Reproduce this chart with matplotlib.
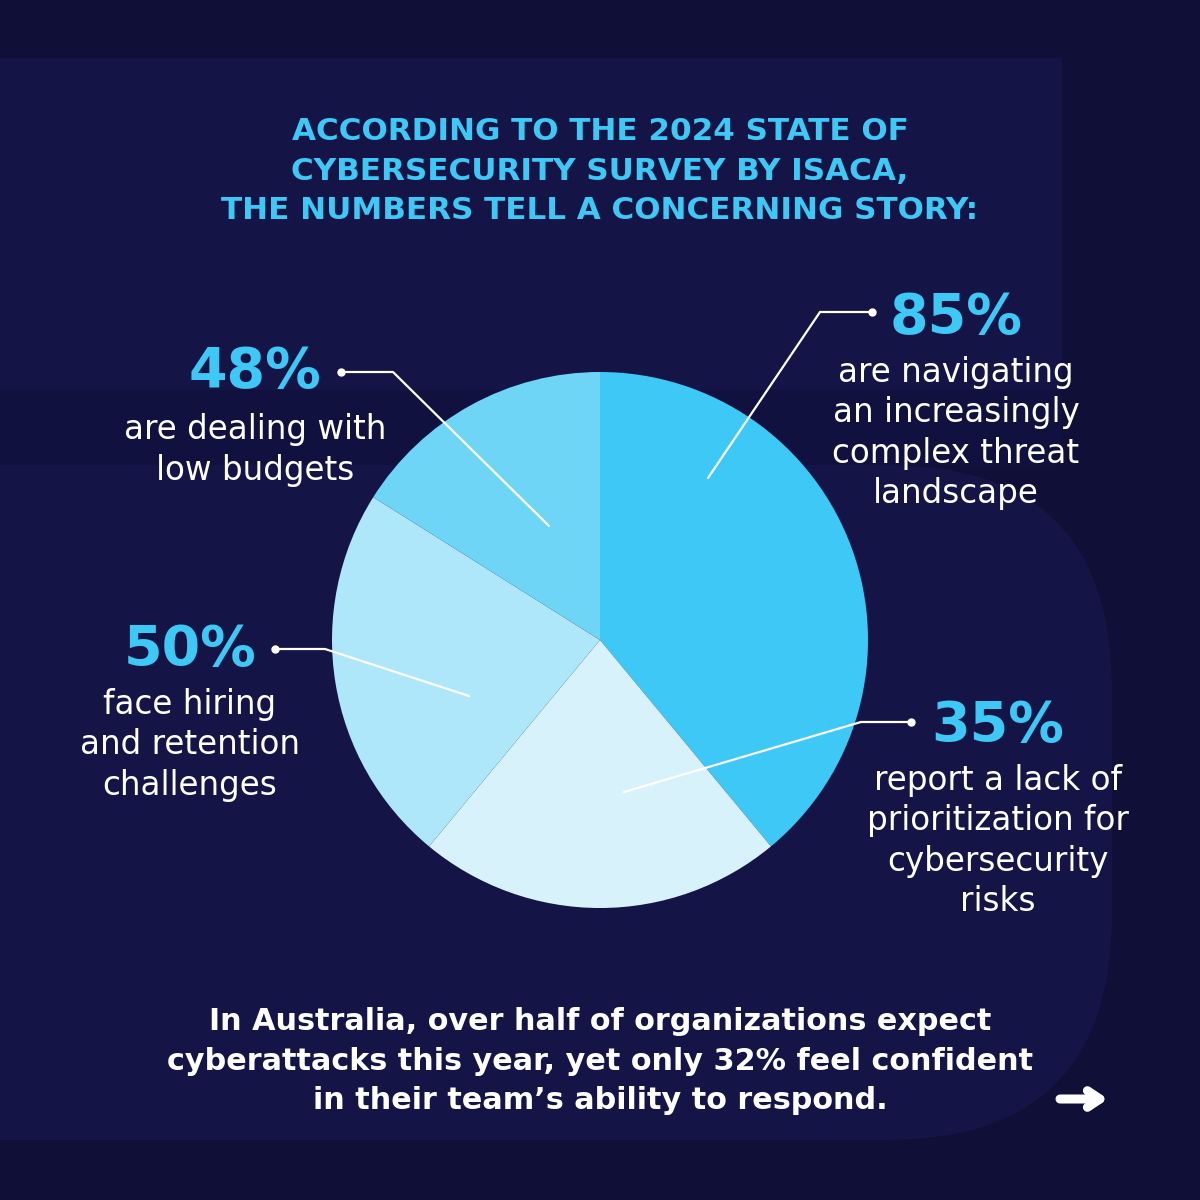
import matplotlib
matplotlib.use("Agg")
import matplotlib.pyplot as plt
from matplotlib.patches import Rectangle, FancyBboxPatch

# pie data (clockwise from top)
values = [85, 48, 50, 35]
slice_colors = ['#3DC8F5', '#D8F2FB', '#AEE7FA', '#6FD5F7']

title = "ACCORDING TO THE 2024 STATE OF\nCYBERSECURITY SURVEY BY ISACA,\nTHE NUMBERS TELL A CONCERNING STORY:"
footer = ("In Australia, over half of organizations expect\n"
          "cyberattacks this year, yet only 32% feel confident\n"
          "in their team\u2019s ability to respond.")

# callouts: big number, description, text centre x, number y, description centre y
callout_pct = ["85%", "48%", "50%", "35%"]
callout_desc = ["are navigating\nan increasingly\ncomplex threat\nlandscape",
                "are dealing with\nlow budgets",
                "face hiring\nand retention\nchallenges",
                "report a lack of\nprioritization for\ncybersecurity\nrisks"]
text_x = [956, 255, 190, 998]
pct_y = [318, 372, 650, 726]
desc_y = [433, 450, 745, 841]
# leader lines: dot, elbow, end
line_dot = [(872, 312), (341, 372), (275, 649), (911, 722)]
line_elbow = [(820, 312), (393, 372), (325, 649), (861, 722)]
line_end = [(708, 478), (549, 526), (469, 696), (624, 792)]

BLUE = '#3DC8F5'
fig = plt.figure(figsize=(12, 12), dpi=100)
fig.patch.set_facecolor('#100F38')

# background shapes
bg = fig.add_axes([0, 0, 1, 1], zorder=0)
bg.set_xlim(0, 1200)
bg.set_ylim(1200, 0)
bg.axis('off')
bg.add_patch(Rectangle((0, 58), 1062, 332, color='#141446', lw=0))
bg.add_patch(Rectangle((0, 390), 1062, 75, color='#111140', lw=0))
bg.add_patch(FancyBboxPatch((-400, 465), 1512, 675,
                            boxstyle="round,pad=0,rounding_size=225",
                            color='#141446', lw=0))

# pie
cx, cy, r = 600, 640, 268
pax = fig.add_axes([(cx - r) / 1200, (1200 - cy - r) / 1200, 2 * r / 1200, 2 * r / 1200], zorder=1)
pax.pie(values, colors=slice_colors, startangle=90, counterclock=False,
        radius=1, wedgeprops=dict(lw=0))
pax.set_xlim(-1, 1)
pax.set_ylim(-1, 1)
pax.axis('off')

# overlay for text and lines
ax = fig.add_axes([0, 0, 1, 1], zorder=2)
ax.set_xlim(0, 1200)
ax.set_ylim(1200, 0)
ax.axis('off')
ax.patch.set_alpha(0)

ax.text(600, 171, title, color=BLUE, fontsize=22.3, fontweight='bold',
        ha='center', va='center', linespacing=1.45)

for i in range(len(callout_pct)):
    ax.text(text_x[i], pct_y[i], callout_pct[i], color=BLUE, fontsize=40,
            fontweight='bold', ha='center', va='center')
    ax.text(text_x[i], desc_y[i], callout_desc[i], color='white', fontsize=23.5,
            ha='center', va='center', linespacing=1.27)
    xs = [line_dot[i][0], line_elbow[i][0], line_end[i][0]]
    ys = [line_dot[i][1], line_elbow[i][1], line_end[i][1]]
    ax.plot(xs, ys, color='white', lw=1.6, solid_capstyle='round')
    ax.plot(line_dot[i][0], line_dot[i][1], 'o', color='white', ms=5)

ax.text(600, 1061, footer, color='white', fontsize=21.8, fontweight='bold',
        ha='center', va='center', linespacing=1.45)
ax.annotate('', xy=(1108, 1099), xytext=(1060, 1099),
            arrowprops=dict(arrowstyle='->,head_length=0.9,head_width=0.6',
                            color='white', lw=6.5, capstyle='round',
                            joinstyle='round', shrinkA=0, shrinkB=0))

fig.savefig('out.png', dpi=100, facecolor=fig.get_facecolor())
